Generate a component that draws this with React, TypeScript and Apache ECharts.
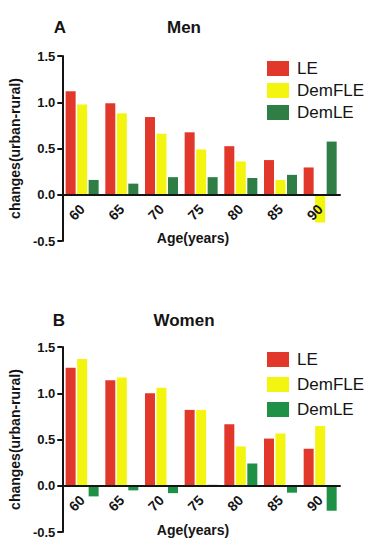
import React, { useEffect, useRef } from "react";
import * as echarts from "echarts";

const ages = ["60", "65", "70", "75", "80", "85", "90"];
const yTicks = [-0.5, 0, 0.5, 1.0, 1.5];
const seriesNames = ["LE", "DemFLE", "DemLE"];

const menLE = [1.12, 0.99, 0.84, 0.675, 0.525, 0.375, 0.295];
const menDemFLE = [0.975, 0.88, 0.66, 0.49, 0.36, 0.16, -0.3];
const menDemLE = [0.16, 0.12, 0.19, 0.19, 0.18, 0.215, 0.575];

const womenLE = [1.275, 1.14, 1.0, 0.82, 0.665, 0.51, 0.4];
const womenDemFLE = [1.37, 1.17, 1.06, 0.82, 0.425, 0.565, 0.645];
const womenDemLE = [-0.115, -0.05, -0.08, 0.01, 0.24, -0.075, -0.27];

const RED = "#E2382B";
const YELLOW = "#F4F411";
const GREEN_TOP = "#2E7E45";
const GREEN_BOT = "#1F9146";
const FONT = "Arial, 'Liberation Sans', sans-serif";
const INK = "#141414";
const GRID_H = 185;

export default function App() {
  const ref = useRef<HTMLDivElement>(null);
  useEffect(() => {
    if (!ref.current) return;
    const chart = echarts.init(ref.current, undefined, { renderer: "svg" });

    const yMin = yTicks[0];
    const yMax = yTicks[yTicks.length - 1];
    const zeroOffset = -((0 - yMin) / (yMax - yMin)) * GRID_H;

    const xAxisCfg = (gridIndex: number) => ({
      type: "category",
      gridIndex,
      data: ages,
      position: "bottom",
      offset: zeroOffset,
      z: 5,
      axisLine: { onZero: false, lineStyle: { color: INK, width: 2 } },
      axisTick: { alignWithLabel: true, length: 5, lineStyle: { color: INK, width: 2 } },
      axisLabel: {
        rotate: 45,
        margin: 12,
        color: INK,
        fontFamily: FONT,
        fontWeight: "bold",
        fontSize: 14,
      },
    });
    const yAxisCfg = (gridIndex: number) => ({
      type: "value",
      gridIndex,
      min: yMin,
      max: yMax,
      interval: 0.5,
      name: "changes(urban-rural)",
      nameLocation: "middle",
      nameGap: 36,
      nameRotate: 90,
      nameTextStyle: { color: INK, fontFamily: FONT, fontWeight: "bold", fontSize: 14 },
      splitLine: { show: false },
      axisLine: { show: true, onZero: false, lineStyle: { color: INK, width: 2 } },
      axisTick: { show: true, length: 5, lineStyle: { color: INK, width: 2 } },
      axisLabel: {
        margin: 7,
        color: INK,
        fontFamily: FONT,
        fontWeight: "bold",
        fontSize: 13,
        formatter: (v: number) => v.toFixed(1),
      },
    });

    const bar = (name: string, data: number[], color: string, idx: number) => ({
      name,
      type: "bar",
      xAxisIndex: idx,
      yAxisIndex: idx,
      data,
      barWidth: 10,
      barGap: "15%",
      itemStyle: { color },
    });

    const legendCfg = (top: number, gap: number, green: string) => ({
      orient: "vertical",
      left: 262,
      top,
      itemWidth: 22,
      itemHeight: 15,
      itemGap: gap,
      icon: "rect",
      selectedMode: false,
      textStyle: { color: INK, fontFamily: FONT, fontSize: 17, padding: [0, 0, 0, 3] },
      data: [
        { name: seriesNames[0], itemStyle: { color: RED } },
        { name: seriesNames[1], itemStyle: { color: YELLOW } },
        { name: seriesNames[2], itemStyle: { color: green } },
      ],
    });

    const titleText = (text: string, x: number, y: number) => ({
      type: "text",
      x,
      y,
      style: {
        text,
        fill: INK,
        font: `bold 17px ${FONT}`,
        textAlign: "center",
        textVerticalAlign: "middle",
      },
    });
    const axisName = (y: number) => ({
      type: "text",
      x: 193,
      y,
      style: {
        text: "Age(years)",
        fill: INK,
        font: `bold 14px ${FONT}`,
        textAlign: "center",
        textVerticalAlign: "middle",
      },
    });

    chart.setOption({
      animation: false,
      backgroundColor: "#ffffff",
      grid: [
        { left: 60, top: 56, width: 280, height: GRID_H },
        { left: 60, top: 347, width: 280, height: GRID_H },
      ],
      xAxis: [xAxisCfg(0), xAxisCfg(1)],
      yAxis: [yAxisCfg(0), yAxisCfg(1)],
      legend: [legendCfg(55, 5, GREEN_TOP), legendCfg(346, 8, GREEN_BOT)],
      graphic: [
        titleText("A", 60, 27),
        titleText("Men", 184, 27),
        titleText("B", 59, 320),
        titleText("Women", 184, 320),
        axisName(238),
        axisName(530),
      ],
      series: [
        bar(seriesNames[0], menLE, RED, 0),
        bar(seriesNames[1], menDemFLE, YELLOW, 0),
        bar(seriesNames[2], menDemLE, GREEN_TOP, 0),
        bar(seriesNames[0], womenLE, RED, 1),
        bar(seriesNames[1], womenDemFLE, YELLOW, 1),
        bar(seriesNames[2], womenDemLE, GREEN_BOT, 1),
      ],
    });
    return () => chart.dispose();
  }, []);
  return (
    <div
      ref={ref}
      style={{ position: "fixed", left: 0, top: 0, width: 371, height: 550, background: "#fff" }}
    />
  );
}
